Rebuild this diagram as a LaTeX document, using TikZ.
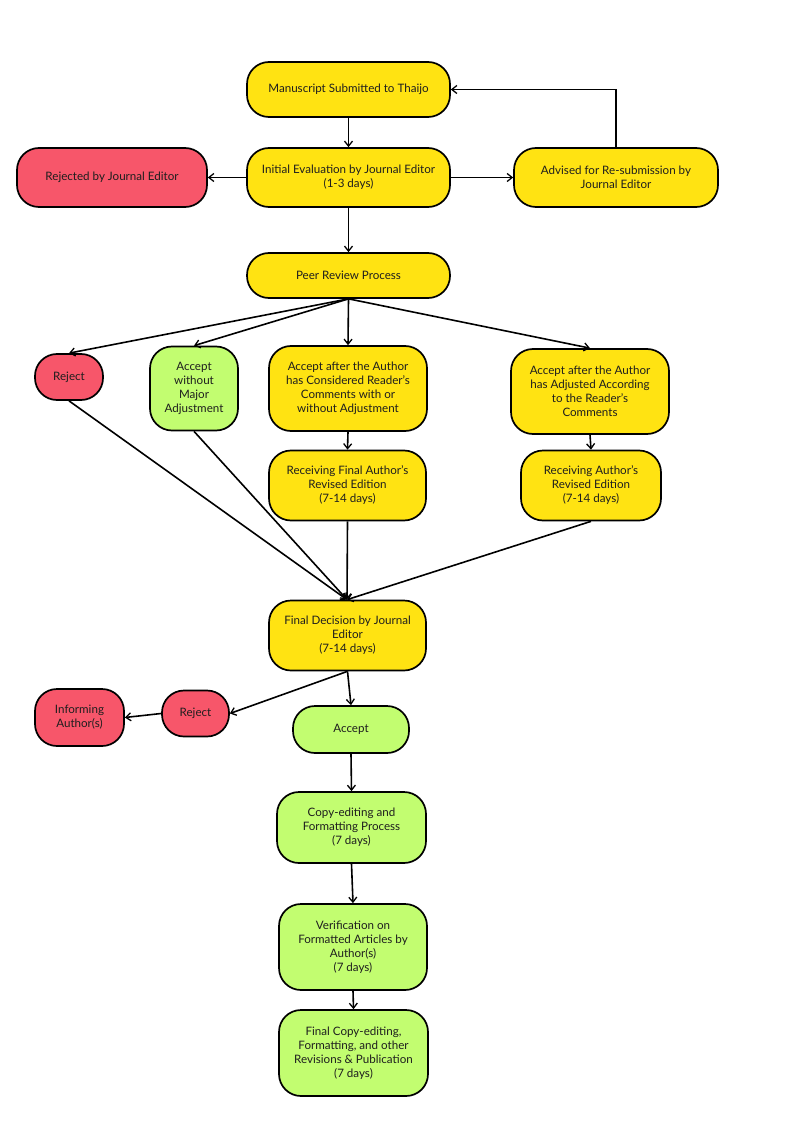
\documentclass[tikz,border=0pt]{standalone}
\usepackage{fontspec}
\setmainfont{Lato}
\usetikzlibrary{arrows.meta}
\definecolor{yel}{HTML}{FFE312}
\definecolor{rd}{HTML}{F7566A}
\definecolor{grn}{HTML}{C2FD70}
\definecolor{txt}{HTML}{1E1E1E}
\tikzset{
  box/.style={draw=black, line width=1.7pt, rounded corners=22pt, align=center,
    text=txt, font=\fontsize{11.6}{14}\selectfont, inner sep=1pt},
  ybox/.style={box, fill=yel},
  rbox/.style={box, fill=rd},
  gbox/.style={box, fill=grn},
  conn/.style={line width=1.6pt, -{Straight Barb[length=5pt,width=8pt,line width=1.3pt]}},
}
\begin{document}
\begin{tikzpicture}[x=1pt,y=-1pt]
\useasboundingbox[fill=white] (0,0) rectangle (800,1131);
% row 1
\node[ybox, minimum width=203pt, minimum height=55pt] (ms) at (348.5,89.5) {Manuscript Submitted to Thaijo};
\node[ybox, minimum width=203pt, minimum height=59pt] (ie) at (348.5,177.5) {Initial Evaluation by Journal Editor\\(1-3 days)};
\node[rbox, minimum width=190pt, minimum height=59pt] (rj) at (112,177.5) {Rejected by Journal Editor};
\node[ybox, minimum width=204pt, minimum height=59pt] (ad) at (616,177.5) {Advised for Re-submission by\\Journal Editor};
\node[ybox, minimum width=203pt, minimum height=45pt] (pr) at (348.5,275.5) {Peer Review Process};
% row options
\node[rbox, minimum width=68pt, minimum height=46pt] (r1) at (69,377) {Reject};
\node[gbox, minimum width=88pt, minimum height=84pt] (aw) at (194,388.5) {Accept\\without\\Major\\Adjustment};
\node[ybox, minimum width=158pt, minimum height=85pt] (ac) at (348,388.5) {Accept after the Author\\has Considered Reader's\\Comments with or\\without Adjustment};
\node[ybox, minimum width=158pt, minimum height=85pt] (aa) at (590,391.5) {Accept after the Author\\has Adjusted According\\to the Reader's\\Comments};
\node[ybox, minimum width=157pt, minimum height=70pt] (rf) at (347.5,485.5) {Receiving Final Author's\\Revised Edition\\(7-14 days)};
\node[ybox, minimum width=140pt, minimum height=70pt] (ra) at (591,485.5) {Receiving Author's\\Revised Edition\\(7-14 days)};
% final decision
\node[ybox, minimum width=157pt, minimum height=70pt] (fd) at (347.5,635.5) {Final Decision by Journal\\Editor\\(7-14 days)};
\node[rbox, minimum width=67pt, minimum height=46pt] (r2) at (195.5,713.5) {Reject};
\node[rbox, minimum width=89pt, minimum height=57pt] (inf) at (79.5,717.5) {Informing\\Author(s)};
\node[gbox, minimum width=116pt, minimum height=47pt] (acc) at (351,729.5) {Accept};
\node[gbox, minimum width=149pt, minimum height=71pt] (ce) at (351.5,827.5) {Copy-editing and\\Formatting Process\\(7 days)};
\node[gbox, minimum width=148pt, minimum height=86pt] (vf) at (353,947) {Verification on\\Formatted Articles by\\Author(s)\\(7 days)};
\node[gbox, minimum width=149pt, minimum height=86pt] (fc) at (353.5,1053) {Final Copy-editing,\\Formatting, and other\\Revisions \& Publication\\(7 days)};
% connectors
\draw[conn] (ms.south) -- (ie.north);
\draw[conn] (ie.west) -- (rj.east);
\draw[conn] (ie.east) -- (ad.west);
\draw[conn] (ad.north) |- (ms.east);
\draw[conn] (ie.south) -- (pr.north);
\coordinate (prb) at (pr.south);
\draw[conn] (prb) -- (r1.north);
\draw[conn] (prb) -- (aw.north);
\draw[conn] (prb) -- (ac.north);
\draw[conn] (prb) -- (aa.north);
\draw[conn] (ac.south) -- (rf.north);
\draw[conn] (aa.south) -- (ra.north);
\coordinate (fdt) at ([xshift=-0.5pt]fd.north);
\draw[conn] (r1.south) -- (fdt);
\draw[conn] (aw.south) -- (fdt);
\draw[conn] (rf.south) -- (fdt);
\draw[conn] (ra.south) -- (fdt);
\coordinate (fdb) at (fd.south);
\draw[conn] (fdb) -- (r2.east);
\draw[conn] (fdb) -- (acc.north);
\draw[conn] (r2.west) -- (inf.east);
\draw[conn] (acc.south) -- (ce.north);
\draw[conn] (ce.south) -- (vf.north);
\draw[conn] (vf.south) -- (fc.north);
\end{tikzpicture}
\end{document}
